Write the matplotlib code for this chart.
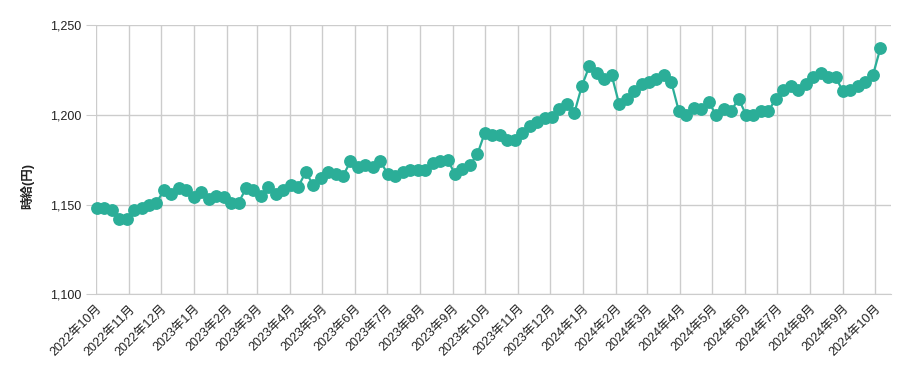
import matplotlib
matplotlib.use("Agg")
import matplotlib.pyplot as plt
import matplotlib.dates as mdates
import pandas as pd

plt.rcParams['font.family'] = ['Liberation Sans', 'Noto Sans CJK JP', 'DejaVu Sans']

start_date = "2022-10-02"
wage = [
    1148, 1148, 1147, 1142, 1142, 1147, 1148, 1150, 1151, 1158,
    1156, 1159, 1158, 1154, 1157, 1153, 1155, 1154, 1151, 1151,
    1159, 1158, 1155, 1160, 1156, 1158, 1161, 1160, 1168, 1161,
    1165, 1168, 1167, 1166, 1174, 1171, 1172, 1171, 1174, 1167,
    1166, 1168, 1169, 1169, 1169, 1173, 1174, 1175, 1167, 1170,
    1172, 1178, 1190, 1189, 1189, 1186, 1186, 1190, 1194, 1196,
    1198, 1199, 1203, 1206, 1201, 1216, 1227, 1223, 1220, 1222,
    1206, 1209, 1213, 1217, 1218, 1220, 1222, 1218, 1202, 1200,
    1204, 1203, 1207, 1200, 1203, 1202, 1209, 1200, 1200, 1202,
    1202, 1209, 1214, 1216, 1214, 1217, 1221, 1223, 1221, 1221,
    1213, 1214, 1216, 1218, 1222, 1237,
]
dates = pd.date_range(start_date, periods=len(wage), freq="7D")

month_ticks = pd.date_range("2022-10-01", "2024-10-01", freq="MS")
month_labels = [f"{d.year}年{d.month}月" for d in month_ticks]
y_ticks = [1100, 1150, 1200, 1250]
y_labels = ["1,100", "1,150", "1,200", "1,250"]
y_title = "時給(円)"

color = "#2bae98"
grid_c = "#cccccc"
text_c = "#222222"

fig = plt.figure(figsize=(9.09, 3.71), dpi=100)
ax = fig.add_axes([95.7 / 909, 1 - 294.3 / 371, (891 - 95.7) / 909, (294.3 - 25) / 371])

ax.plot(dates, wage, color=color, lw=1.6, marker="o", markersize=8.2,
        markerfacecolor=color, markeredgecolor=color, zorder=3, clip_on=False)

ax.set_ylim(1100, 1250)
ax.set_xlim(pd.Timestamp("2022-10-01"), pd.Timestamp("2024-10-16"))
ax.set_yticks(y_ticks)
ax.set_yticklabels(y_labels)
ax.set_xticks(month_ticks)
ax.set_xticklabels(month_labels, rotation=45, ha="right", rotation_mode="anchor")

ax.grid(True, color=grid_c, lw=1)
ax.set_axisbelow(True)
for s in ["top", "right", "left"]:
    ax.spines[s].set_visible(False)
ax.spines["bottom"].set_color(grid_c)
ax.tick_params(axis="y", length=7, color=grid_c, labelsize=9, labelcolor=text_c, pad=3)
ax.tick_params(axis="x", length=0, labelsize=9, labelcolor=text_c, pad=6)

fig.text(27 / 909, 1 - 186 / 371, y_title, rotation=90, ha="center", va="center",
         fontsize=9, fontweight="bold", color=text_c)

fig.savefig("out.png", dpi=100)
